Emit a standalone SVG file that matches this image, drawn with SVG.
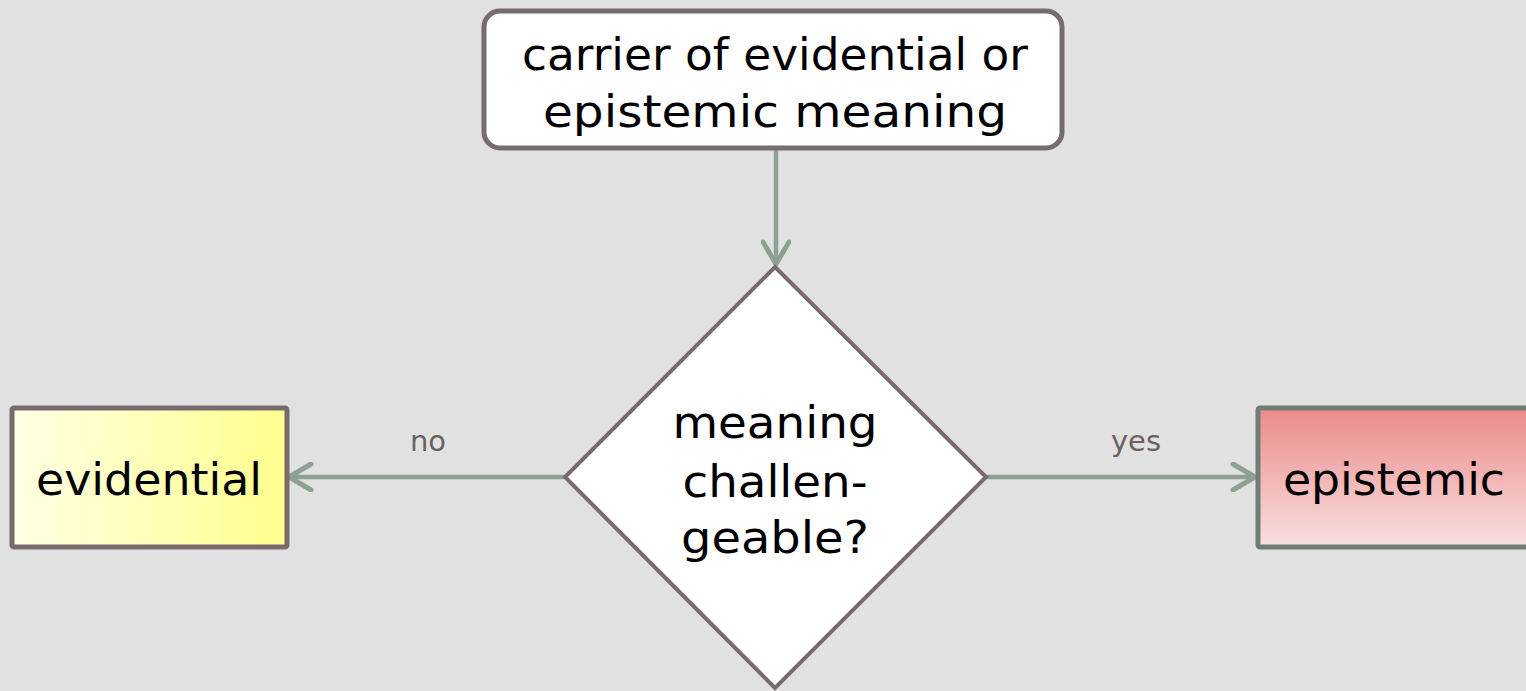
<svg xmlns="http://www.w3.org/2000/svg" width="1526" height="691" viewBox="0 0 1526 691">
<style>
text{font-family:"DejaVu Sans","Liberation Sans",sans-serif;fill:#000;text-anchor:middle}
.n{font-size:44px}
.lbl{font-size:29px;fill:#6b6161}
.conn{stroke:#8da193;stroke-width:4.5;fill:none}
</style>
<defs>
<linearGradient id="yel" x1="0" y1="0" x2="1" y2="0">
<stop offset="0" stop-color="#ffffe6"/>
<stop offset="1" stop-color="#ffff8c"/>
</linearGradient>
<linearGradient id="red" x1="0" y1="0" x2="0" y2="1">
<stop offset="0" stop-color="#ec8a8a"/>
<stop offset="1" stop-color="#f8e0e0"/>
</linearGradient>
<marker id="arr" markerUnits="userSpaceOnUse" viewBox="0 0 30 30" refX="27" refY="15" markerWidth="30" markerHeight="30" orient="auto">
<path d="M5,2 L27,15 L5,28" fill="none" stroke="#8da193" stroke-width="5" stroke-linecap="round" stroke-linejoin="round"/>
</marker>
</defs>
<rect width="1526" height="691" fill="#e1e1e1"/>
<g id="connectors">
<path class="conn" d="M776,150 L776,264" marker-end="url(#arr)"/>
<path class="conn" d="M564,477 L289,477" marker-end="url(#arr)"/>
<path class="conn" d="M986,477 L1255,477" marker-end="url(#arr)"/>
<text class="lbl" x="428" y="451">no</text>
<text class="lbl" x="1136" y="451">yes</text>
</g>
<g id="start">
<rect x="484" y="11" width="578" height="137" rx="16" fill="#fff" stroke="#786b6e" stroke-width="5"/>
<text class="n" x="775" y="70" textLength="506" lengthAdjust="spacingAndGlyphs">carrier of evidential or</text>
<text class="n" x="775" y="127" textLength="464" lengthAdjust="spacingAndGlyphs">epistemic meaning</text>
</g>
<g id="decision">
<path d="M775,267 L986,477 L775,688 L565,477 Z" fill="#fff" stroke="#786b6e" stroke-width="4"/>
<text class="n" x="775" y="438" textLength="205" lengthAdjust="spacingAndGlyphs">meaning</text>
<text class="n" x="775" y="497" textLength="185" lengthAdjust="spacingAndGlyphs">challen-</text>
<text class="n" x="775" y="553" textLength="188" lengthAdjust="spacingAndGlyphs">geable?</text>
</g>
<g id="evidential">
<rect x="12" y="408" width="275" height="139" rx="2" fill="url(#yel)" stroke="#786b6e" stroke-width="5"/>
<text class="n" x="149" y="495" textLength="226" lengthAdjust="spacingAndGlyphs">evidential</text>
</g>
<g id="epistemic">
<rect x="1258" y="408" width="290" height="139" rx="2" fill="url(#red)" stroke="#6f7d72" stroke-width="5"/>
<text class="n" x="1394" y="495" textLength="222" lengthAdjust="spacingAndGlyphs">epistemic</text>
</g>
</svg>
